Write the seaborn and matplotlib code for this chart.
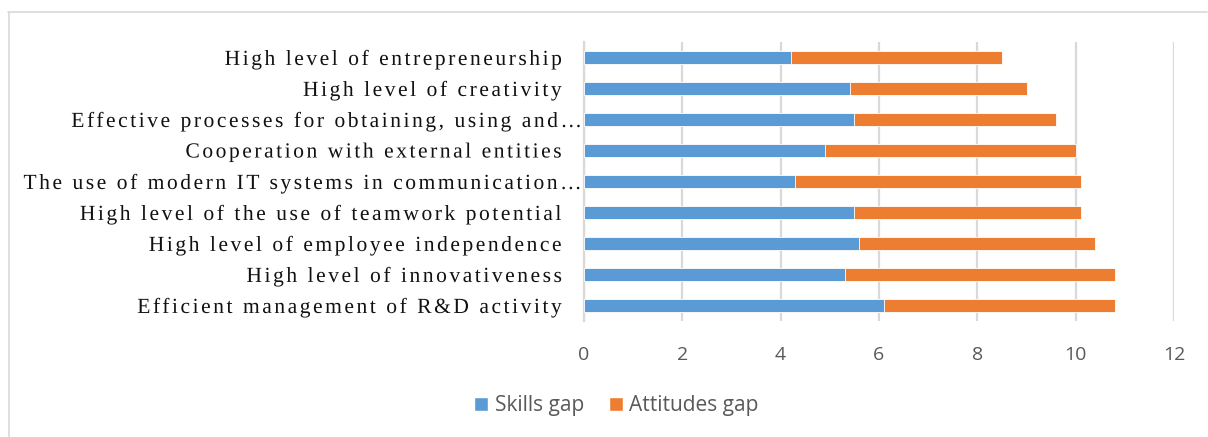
import matplotlib
matplotlib.use("Agg")
import numpy as np
import matplotlib.pyplot as plt
from matplotlib.lines import Line2D
from matplotlib.patches import Patch
from matplotlib.path import Path
from matplotlib.transforms import Affine2D
from matplotlib.patheffects import AbstractPathEffect
from matplotlib.textpath import text_to_path
import seaborn as sns
import pandas as pd

categories = [
    "High level of entrepreneurship",
    "High level of creativity",
    "Effective processes for obtaining, using and\u2026",
    "Cooperation with external entities",
    "The use of modern IT systems in communication\u2026",
    "High level of the use of teamwork potential",
    "High level of employee independence",
    "High level of innovativeness",
    "Efficient management of R&D activity",
]
skills_gap = [4.2, 5.4, 5.5, 4.9, 4.3, 5.5, 5.6, 5.3, 6.1]
attitudes_gap = [4.3, 3.6, 4.1, 5.1, 5.8, 4.6, 4.8, 5.5, 4.7]
x_ticks = [0, 2, 4, 6, 8, 10, 12]

BLUE = "#5b9bd5"
ORANGE = "#ed7d31"
GRID = "#d9d9d9"
TEXT_GRAY = "#595959"


class Tracking(AbstractPathEffect):
    """Draw a text with extra space between its glyphs (right edge kept in place)."""

    def __init__(self, text, prop, tracking_em, shift_pt=0.0):
        super().__init__()
        self.shift_pt = shift_pt
        unit = text_to_path.FONT_SCALE * tracking_em
        font = text_to_path._get_font(prop)
        glyph_info, glyph_map, _ = text_to_path.get_glyphs_with_font(font, text)
        verts, codes = [], []
        n = len(glyph_info)
        for i, (gid, xpos, ypos, scale) in enumerate(glyph_info):
            v, c = glyph_map[gid]
            v = np.asarray(v, dtype=float) * scale + [xpos + unit * (i - (n - 1)), ypos]
            verts.extend(v)
            codes.extend(c)
        if not verts:
            verts = np.empty((0, 2))
        self.path = Path(verts, codes)

    def draw_path(self, renderer, gc, tpath, affine, rgbFace=None):
        shift = Affine2D().translate(renderer.points_to_pixels(self.shift_pt), 0)
        renderer.draw_path(gc, self.path, affine + shift, rgbFace)


df = pd.DataFrame({
    "category": categories,
    "skills": skills_gap,
    "attitudes": attitudes_gap,
})
df["total"] = df["skills"] + df["attitudes"]

sns.set_theme(style="white")
plt.rcParams["font.family"] = ["DejaVu Sans"]

fig = plt.figure(figsize=(12.08, 4.37), dpi=100)
ax = fig.add_axes([584 / 1208, 1 - 321 / 437, (1174 - 584) / 1208, (321 - 42) / 437])

# stacked horizontal bars: full length in orange, skills part on top in blue
sns.barplot(data=df, x="total", y="category", order=categories, color=ORANGE,
            width=0.4, saturation=1, edgecolor="white", linewidth=0.6, ax=ax, zorder=2)
sns.barplot(data=df, x="skills", y="category", order=categories, color=BLUE,
            width=0.4, saturation=1, edgecolor="white", linewidth=0.6, ax=ax, zorder=3)

ax.set_xlim(0, 12)
ax.set_ylim(len(categories) - 0.5, -0.5)
ax.set_xticks(x_ticks)
ax.set_xlabel("")
ax.set_ylabel("")
ax.xaxis.grid(True, color=GRID, linewidth=1.6, zorder=0)
ax.set_axisbelow(True)
for side in ["top", "right", "bottom"]:
    ax.spines[side].set_visible(False)
ax.spines["left"].set_color(GRID)
ax.spines["left"].set_linewidth(1.6)

ax.tick_params(axis="both", length=0)
ax.tick_params(axis="y", pad=16)
ax.tick_params(axis="x", pad=18)
for lab in ax.get_yticklabels():
    lab.set_fontfamily("Liberation Serif")
    lab.set_fontsize(15.5)
    lab.set_color("#111111")
    txt = lab.get_text()
    shift = 14.5 if txt.endswith("\u2026") else 0.0
    lab.set_path_effects([Tracking(txt, lab.get_fontproperties(), 0.118, shift)])
for lab in ax.get_xticklabels():
    lab.set_fontfamily("Open Sans")
    lab.set_fontsize(14)
    lab.set_color(TEXT_GRAY)

handles = [Patch(facecolor=BLUE, label="Skills gap"),
           Patch(facecolor=ORANGE, label="Attitudes gap")]
fig.legend(handles=handles, loc="center", bbox_to_anchor=(616.5 / 1208, 1 - 406 / 437),
           ncol=2, frameon=False, handlelength=0.67, handleheight=0.67,
           handletextpad=0.3, columnspacing=1.2,
           prop={"family": "Open Sans", "size": 15}, labelcolor=TEXT_GRAY)

# chart area border (top and left edges)
fig.add_artist(Line2D([8 / 1208, 1207 / 1208], [1 - 12 / 437, 1 - 12 / 437],
                      transform=fig.transFigure, color=GRID, linewidth=1.2))
fig.add_artist(Line2D([8.5 / 1208, 8.5 / 1208], [1 - 12 / 437, 0],
                      transform=fig.transFigure, color=GRID, linewidth=1.2))

fig.savefig("out.png", dpi=100, facecolor="white")
